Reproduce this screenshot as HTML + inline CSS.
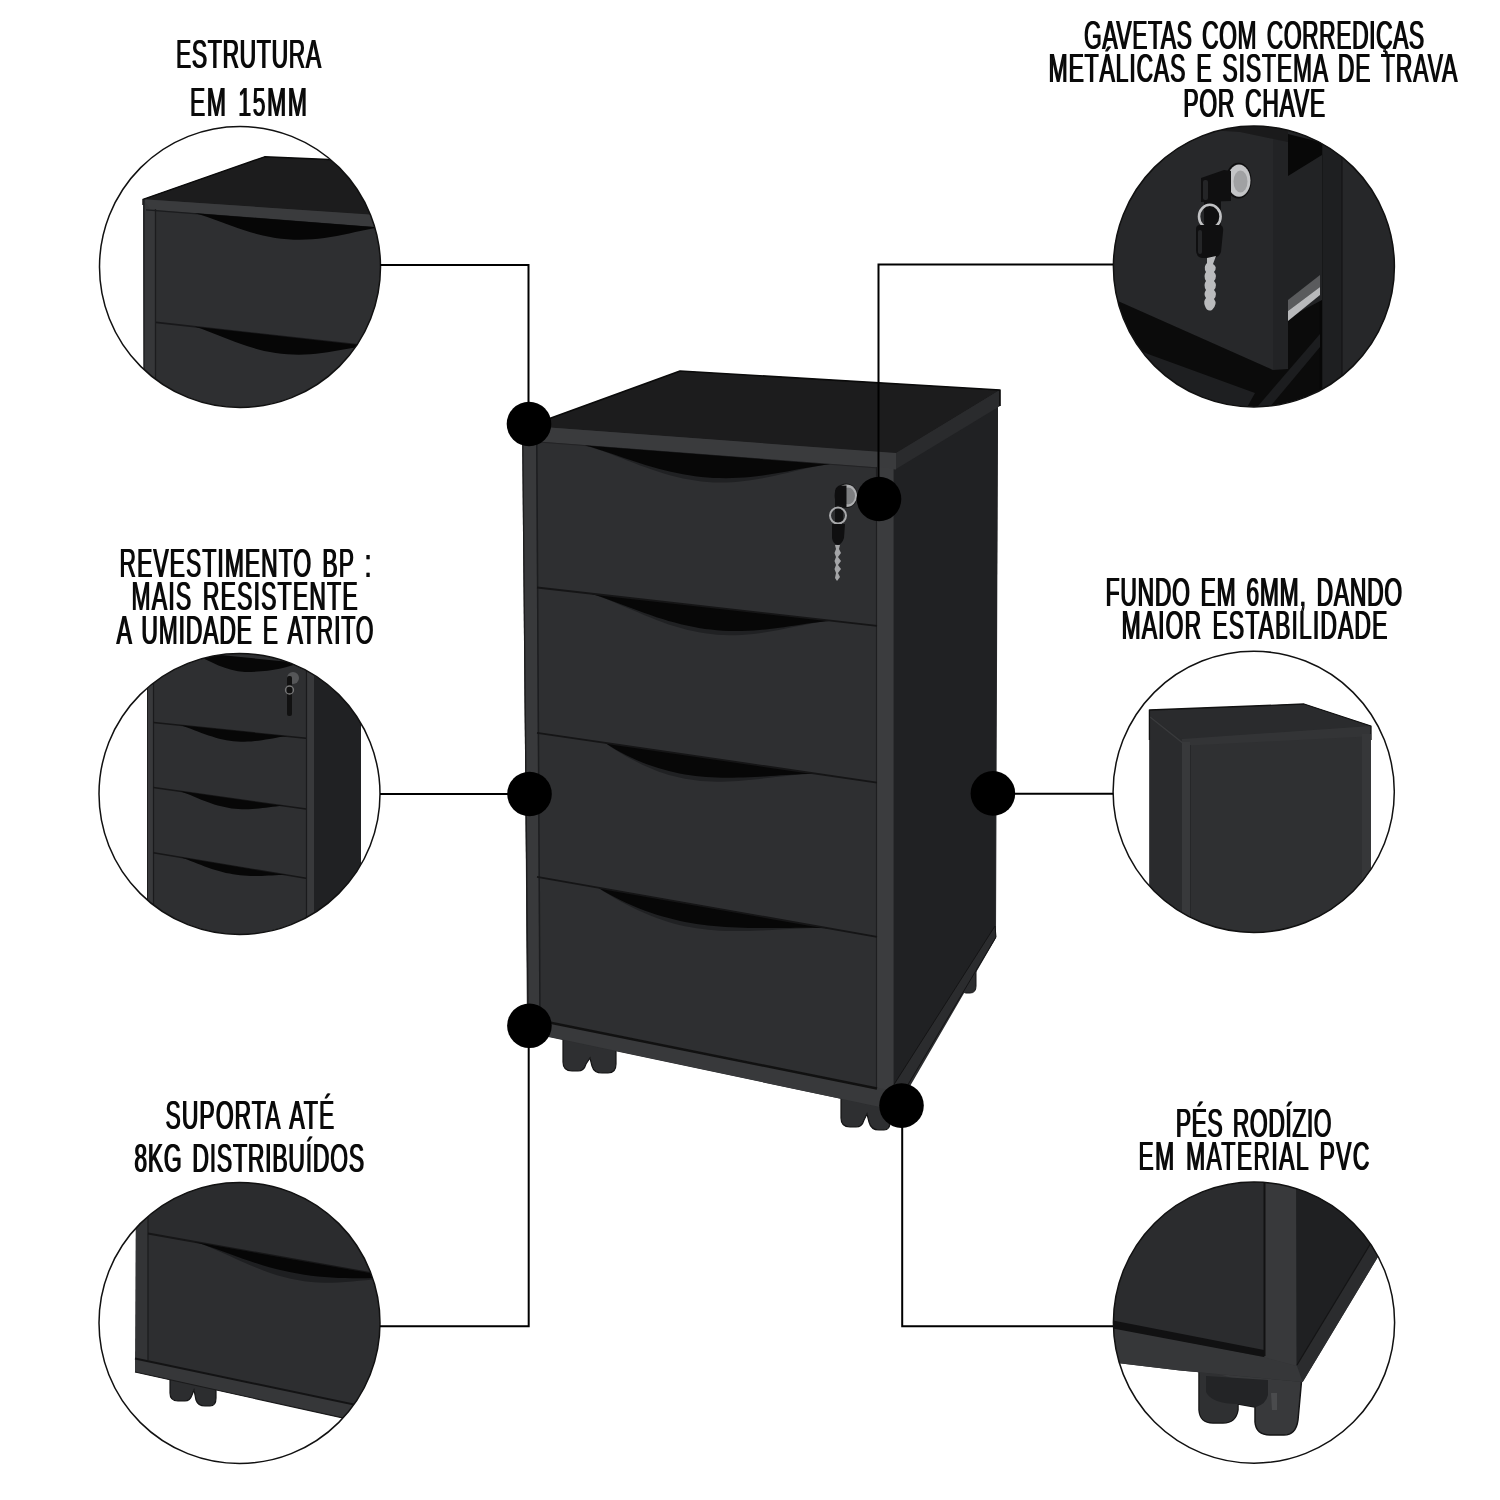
<!DOCTYPE html>
<html><head><meta charset="utf-8"><title>Gaveteiro</title>
<style>
html,body{margin:0;padding:0;background:#fff;}
body{width:1500px;height:1500px;overflow:hidden;}
svg{display:block;}
.t{font-family:"Liberation Sans",sans-serif;font-size:41.5px;fill:#0a0a0a;word-spacing:5px;}
.t{will-change:transform;}
</style></head><body>
<svg width="1500" height="1500" viewBox="0 0 1500 1500">
<defs>
<clipPath id="cTL"><circle cx="240" cy="267" r="140.5"/></clipPath>
<clipPath id="cTR"><circle cx="1253.9" cy="266.5" r="140.5"/></clipPath>
<clipPath id="cML"><circle cx="239.5" cy="794" r="140.5"/></clipPath>
<clipPath id="cMR"><circle cx="1253.7" cy="791.8" r="140.6"/></clipPath>
<clipPath id="cBL"><circle cx="239.5" cy="1323" r="140.5"/></clipPath>
<clipPath id="cBR"><circle cx="1254" cy="1322.6" r="140.6"/></clipPath>
</defs>
<rect width="1500" height="1500" fill="#fff"/>

<!-- ============ CIRCLE CONTENTS ============ -->
<!-- TL -->
<g clip-path="url(#cTL)" id="gTL">
<rect x="99" y="126" width="282" height="282" fill="#fff"/>
<polygon points="143,199.3 264.6,156.8 330,159.5 400,150 400,420 144,420" fill="#2e2f31"/>
<polygon points="143,199.3 264.6,156.8 330,159.5 400,150 400,217" fill="#1c1c1d"/>
<polygon points="143,199.3 400,216.5 400,229.2 146,209.6" fill="#3a3b3d"/>
<polyline points="143,205 143,199.3 264.6,156.8 335,159.8" fill="none" stroke="#0a0a0a" stroke-width="1.4" stroke-linejoin="round"/>
<polygon points="143.5,199.5 150,209 156,209 156,420 144,420" fill="#363739"/>
<line x1="144" y1="200" x2="144" y2="420" stroke="#1c1c1d" stroke-width="1.2"/>
<line x1="155.5" y1="209" x2="155.5" y2="420" stroke="#1c1c1e" stroke-width="1.3"/>
<line x1="146" y1="209.8" x2="400" y2="229.5" stroke="#1b1c1e" stroke-width="1.2"/>
<line x1="156" y1="322.4" x2="400" y2="349.4" stroke="#18181a" stroke-width="1.6"/>
<path d="M195.0,213.2 L201.2,214.9 L207.3,217.0 L213.5,219.2 L219.7,221.5 L225.8,223.8 L232.0,226.1 L238.2,228.2 L244.3,230.3 L250.5,232.2 L256.7,233.9 L262.8,235.5 L269.0,236.8 L275.2,237.9 L281.3,238.7 L287.5,239.3 L293.7,239.7 L299.8,239.8 L306.0,239.6 L312.2,239.3 L318.3,238.7 L324.5,237.9 L330.7,237.0 L336.8,235.9 L343.0,234.7 L349.2,233.4 L355.3,232.0 L361.5,230.7 L367.7,229.4 L373.8,228.3 L380.0,227.5 Z" fill="#060606"/>
<path d="M195.0,326.7 L200.8,328.5 L206.5,330.7 L212.3,332.9 L218.1,335.2 L223.8,337.5 L229.6,339.8 L235.4,342.0 L241.1,344.1 L246.9,346.0 L252.7,347.8 L258.4,349.5 L264.2,350.9 L270.0,352.1 L275.7,353.1 L281.5,353.8 L287.3,354.3 L293.0,354.6 L298.8,354.7 L304.6,354.6 L310.3,354.2 L316.1,353.7 L321.9,353.1 L327.6,352.2 L333.4,351.3 L339.2,350.3 L344.9,349.3 L350.7,348.3 L356.5,347.3 L362.2,346.4 L368.0,345.9 Z" fill="#060606"/>
</g>
<!-- TR -->
<g clip-path="url(#cTR)" id="gTR">
<rect x="1110" y="120" width="290" height="292" fill="#0b0b0b"/>
<rect x="1342" y="110" width="60" height="310" fill="#262729"/>
<rect x="1322" y="110" width="20" height="310" fill="#1e1f21"/>
<line x1="1321" y1="110" x2="1321" y2="420" stroke="#070707" stroke-width="2.5"/>
<line x1="1342" y1="110" x2="1342" y2="420" stroke="#111112" stroke-width="1"/>
<polygon points="1288,110 1322,110 1322,300 1288,318" fill="#222325"/>
<polygon points="1288,134 1316,141 1322,143 1322,155 1288,176" fill="#080808"/>
<polygon points="1288,300 1320,275 1320,287 1288,311" fill="#5a5b5d"/>
<polygon points="1288,311 1320,287 1320,295 1288,321" fill="#b8b9bb"/>
<polygon points="1100,330 1148,354 1255,393 1240,420 1100,420" fill="#1e1f21"/>
<polygon points="1246,420 1320,334 1320,347 1259,420" fill="#1c1d1f"/>
<polygon points="1100,100 1273,100 1273,370 1119,301.6 1100,294" fill="#27282a"/>
<polygon points="1273,118 1288,118 1288,369 1273,370" fill="#222325"/>
<polygon points="1160,112 1288,112 1288,142 1240,132 1160,127" fill="#1a1a1b"/>
<ellipse cx="1238.5" cy="180.6" rx="13" ry="17.8" fill="#0e0e0f"/>
<ellipse cx="1239" cy="180.6" rx="11.5" ry="16.2" fill="#c4c5c7"/>
<ellipse cx="1240.5" cy="181.5" rx="7" ry="11" fill="#a0a1a3"/>
<path d="M1201,178 L1224,170 L1231,171 L1231,201 L1201,202 Z" fill="#0f0f10"/>
<rect x="1203" y="180" width="5" height="20" rx="2" fill="#242527"/>
<rect x="1204" y="200" width="17" height="27" fill="#0f0f10"/>
<ellipse cx="1209.8" cy="216.6" rx="10.8" ry="11.8" fill="none" stroke="#c0c1c3" stroke-width="2.6"/>
<path d="M1196,229 Q1196,225 1200,225 L1220,225 Q1224,226 1223,232 L1221,252 Q1219,258 1212,258 L1202,258 Q1196,257 1196,250 Z" fill="#0f0f10"/>
<rect x="1198" y="230" width="4" height="24" rx="2" fill="#242527"/>
<path d="M1207,258 L1216,256 L1213,264 Q1218,267 1214,272 Q1218,276 1214,281 Q1218,285 1214,290 Q1218,294 1214,299 Q1218,304 1212,310 Q1207,312 1205,306 Q1203,301 1206,298 Q1203,294 1206,290 Q1203,285 1206,281 Q1203,276 1206,272 Q1203,267 1207,263 Z" fill="#babbbd"/>
</g>
<!-- ML -->
<g clip-path="url(#cML)" id="gML">
<rect x="99" y="653" width="283" height="283" fill="#fff"/>
<rect x="313" y="640" width="48" height="310" fill="#202123"/>
<rect x="147" y="640" width="167" height="310" fill="#2e2f31"/>
<rect x="147" y="640" width="6" height="310" fill="#38393b"/>
<line x1="147.5" y1="640" x2="147.5" y2="950" stroke="#1c1c1d" stroke-width="1"/>
<line x1="153.5" y1="640" x2="153.5" y2="950" stroke="#1a1a1c" stroke-width="1.2"/>
<rect x="307" y="640" width="7" height="310" fill="#38393b"/>
<line x1="306.5" y1="640" x2="306.5" y2="950" stroke="#1a1a1c" stroke-width="1.2"/>
<g stroke="#161617" stroke-width="1.5">
<line x1="153.4" y1="722.4" x2="306" y2="738.3"/>
<line x1="153.4" y1="787.5" x2="306" y2="809.1"/>
<line x1="153.4" y1="852.7" x2="306" y2="878.3"/>
</g>
<g fill="#070707">
<path d="M190,652 L300,663 C285,668 270,672 245,672 C225,671 210,661 190,652 Z"/>
<path d="M180.0,725.2 L183.6,726.2 L187.1,727.5 L190.7,728.8 L194.3,730.2 L197.8,731.6 L201.4,732.9 L205.0,734.2 L208.5,735.5 L212.1,736.6 L215.7,737.7 L219.2,738.7 L222.8,739.5 L226.4,740.2 L229.9,740.8 L233.5,741.2 L237.1,741.5 L240.6,741.7 L244.2,741.7 L247.8,741.6 L251.3,741.4 L254.9,741.1 L258.5,740.7 L262.0,740.2 L265.6,739.6 L269.2,739.0 L272.7,738.4 L276.3,737.7 L279.9,737.1 L283.4,736.6 L287.0,736.3 Z"/>
<path d="M180.0,791.3 L183.4,792.4 L186.9,793.7 L190.3,795.1 L193.7,796.5 L197.2,798.0 L200.6,799.4 L204.0,800.7 L207.5,802.0 L210.9,803.2 L214.3,804.4 L217.8,805.4 L221.2,806.3 L224.6,807.1 L228.1,807.8 L231.5,808.4 L234.9,808.8 L238.4,809.1 L241.8,809.2 L245.2,809.3 L248.7,809.2 L252.1,809.1 L255.5,808.8 L259.0,808.5 L262.4,808.1 L265.8,807.7 L269.3,807.2 L272.7,806.8 L276.1,806.4 L279.6,806.0 L283.0,805.9 Z"/>
<path d="M180.0,857.2 L183.5,858.3 L187.1,859.6 L190.6,861.0 L194.1,862.3 L197.7,863.7 L201.2,865.1 L204.7,866.4 L208.3,867.7 L211.8,868.9 L215.3,870.0 L218.9,871.1 L222.4,872.0 L225.9,872.9 L229.5,873.6 L233.0,874.3 L236.5,874.8 L240.1,875.2 L243.6,875.6 L247.1,875.8 L250.7,875.9 L254.2,876.0 L257.7,876.0 L261.3,875.9 L264.8,875.7 L268.3,875.6 L271.9,875.4 L275.4,875.2 L278.9,875.0 L282.5,874.9 L286.0,875.0 Z"/>
</g>
<circle cx="293" cy="678" r="6" fill="#555658"/>
<rect x="287" y="676" width="5" height="40" rx="2" fill="#111"/>
<circle cx="289.5" cy="690" r="4" fill="none" stroke="#777" stroke-width="1.3"/>
</g>
<!-- MR -->
<g clip-path="url(#cMR)" id="gMR">
<rect x="1113" y="651" width="283" height="283" fill="#fff"/>
<polygon points="1149.4,710 1304,704 1371,726 1371,950 1149.4,950" fill="#2c2d2f"/>
<polygon points="1149.4,712 1182,740 1182,950 1149.4,950" fill="#2a2b2d"/>
<polygon points="1189,745 1366,735 1366,950 1189,950" fill="#2f3032"/>
<polygon points="1149.4,710 1304,704 1371,726 1182,739.5 1149.4,716" fill="#2a2b2d"/>
<polygon points="1182,739 1371,726 1371,733 1366,736.5 1190,745.5 1182,745.5" fill="#333436"/>
<line x1="1150" y1="717" x2="1184" y2="744" stroke="#3a3b3d" stroke-width="1.2"/>
<polyline points="1149.4,740 1149.4,710 1304,704 1371,726 1371,740" fill="none" stroke="#111" stroke-width="1.3" stroke-linejoin="round"/>
<rect x="1182" y="742" width="8" height="210" fill="#38393b"/>
<rect x="1362" y="734" width="9" height="216" fill="#363739"/>
<line x1="1190.5" y1="745" x2="1190.5" y2="950" stroke="#262729" stroke-width="1"/>
</g>
<!-- BL -->
<g clip-path="url(#cBL)" id="gBL">
<rect x="99" y="1182" width="283" height="283" fill="#fff"/>
<polygon points="136,1170 420,1170 420,1435 135,1372" fill="#2d2e30"/>
<polygon points="136,1170 420,1170 420,1283 136,1232" fill="#2b2c2e"/>
<rect x="136" y="1170" width="12" height="192" fill="#333436"/>
<line x1="148" y1="1170" x2="148" y2="1360" stroke="#1c1c1e" stroke-width="1.3"/>
<line x1="148" y1="1233.5" x2="420" y2="1281.9" stroke="#161617" stroke-width="2"/>
<path d="M195.0,1241.9 L201.8,1244.1 L208.7,1246.8 L215.5,1249.7 L222.3,1252.7 L229.2,1255.8 L236.0,1258.9 L242.8,1262.0 L249.7,1265.0 L256.5,1267.8 L263.3,1270.5 L270.2,1272.9 L277.0,1275.2 L283.8,1277.1 L290.7,1278.8 L297.5,1280.1 L304.3,1281.2 L311.2,1282.0 L318.0,1282.5 L324.8,1282.7 L331.7,1282.7 L338.5,1282.4 L345.3,1282.0 L352.2,1281.5 L359.0,1280.8 L365.8,1280.2 L372.7,1279.5 L379.5,1278.9 L386.3,1278.4 L393.2,1278.2 L400.0,1278.4 Z" fill="#1e1f21"/>
<path d="M195.0,1241.9 L201.8,1244.0 L208.7,1246.4 L215.5,1248.8 L222.3,1251.3 L229.2,1253.8 L236.0,1256.3 L242.8,1258.7 L249.7,1261.1 L256.5,1263.3 L263.3,1265.4 L270.2,1267.4 L277.0,1269.2 L283.8,1270.8 L290.7,1272.3 L297.5,1273.6 L304.3,1274.8 L311.2,1275.7 L318.0,1276.5 L324.8,1277.1 L331.7,1277.6 L338.5,1277.9 L345.3,1278.1 L352.2,1278.2 L359.0,1278.2 L365.8,1278.2 L372.7,1278.1 L379.5,1278.0 L386.3,1278.0 L393.2,1278.1 L400.0,1278.4 Z" fill="#060606"/>
<path d="M170,1370 L170,1393 Q170,1401 178,1401 L185,1401 Q190,1401 192,1395 L194,1390 L196,1400 Q198,1406 205,1406 L210,1406 Q216,1406 216,1398 L216,1378 Z" fill="#2c2d2f" stroke="#141415" stroke-width="1.2"/>
<polygon points="135,1358 420,1418 420,1435 135,1372" fill="#363739"/>
<line x1="135" y1="1358.5" x2="420" y2="1418.5" stroke="#131314" stroke-width="2"/>
<line x1="135" y1="1372" x2="420" y2="1435" stroke="#1a1a1b" stroke-width="1.2"/>
</g>
<!-- BR -->
<g clip-path="url(#cBR)" id="gBR">
<rect x="1113" y="1182" width="283" height="283" fill="#fff"/>
<path d="M1199,1368 L1199,1410 Q1200,1423 1213,1423 L1223,1423 Q1236,1423 1238,1410 L1238,1404 L1255,1407 L1255,1422 Q1256,1435 1270,1435 L1284,1435 Q1296,1435 1298,1420 L1302,1376 Z" fill="#38393b" stroke="#141415" stroke-width="1.5"/>
<path d="M1199.7,1368 L1199.7,1410 Q1200,1422.3 1213,1422.3 L1223,1422.3 Q1235,1422.3 1237.3,1410 L1238,1380 Z" fill="#2f3032"/>
<path d="M1206,1376 L1206,1392 Q1212,1404 1238,1404 L1256,1407 Q1266,1404 1268,1395 L1268,1380 Z" fill="#232426"/>
<path d="M1271,1393 L1277,1393 L1277,1410 L1272,1410 Z" fill="#4a4b4d"/>
<polygon points="1100,1170 1420,1170 1420,1187 1302.7,1382 1180,1370.5 1100,1361" fill="#2b2c2e"/>
<polygon points="1296,1150 1420,1150 1420,1162 1297,1365" fill="#1f2022"/>
<polygon points="1297,1365 1420,1162 1420,1187 1302.7,1382" fill="#2b2c2e"/>
<line x1="1297" y1="1365" x2="1420" y2="1162" stroke="#141415" stroke-width="1.2"/>
<polygon points="1265,1170 1296,1170 1296,1366 1265,1358" fill="#38393b"/>
<line x1="1264.5" y1="1170" x2="1264.5" y2="1356" stroke="#121213" stroke-width="2"/>
<polygon points="1100,1325 1264,1357 1297,1366 1302.7,1382 1180,1370.5 1100,1361" fill="#363739"/>
<polygon points="1100,1318 1264,1350 1264,1357 1100,1326" fill="#111112"/>
</g>

<!-- circle outlines -->
<g fill="none" stroke="#111" stroke-width="1.5">
<circle cx="240" cy="267" r="140.5"/>
<circle cx="1253.9" cy="266.5" r="140.5"/>
<circle cx="239.5" cy="794" r="140.5"/>
<circle cx="1253.7" cy="791.8" r="140.6"/>
<circle cx="239.5" cy="1323" r="140.5"/>
<circle cx="1254" cy="1322.6" r="140.6"/>
</g>

<!-- ============ MAIN CABINET ============ -->
<g id="cab">
<!-- rear wheel -->
<path d="M962,968 L976,962 L976,986 Q976,993 970,993 L966,993 Q962,993 962,986 Z" fill="#2c2d2f" stroke="#151516" stroke-width="1"/>
<!-- front wheels -->
<path d="M563,1028 L563,1062 Q563,1071 572,1071 L578,1071 Q584,1071 586,1064 L590,1058 L592,1066 Q594,1073 602,1073 L608,1073 Q616,1073 616,1064 L616,1038 Z" fill="#2e2f31" stroke="#141415" stroke-width="1.2"/>
<path d="M841,1085 L841,1118 Q841,1127 850,1127 L856,1127 Q862,1127 864,1120 L867,1114 L869,1122 Q871,1130 879,1130 L884,1130 Q890,1130 890,1122 L890,1092 Z" fill="#2e2f31" stroke="#141415" stroke-width="1.2"/>
<!-- base silhouette -->
<polygon points="523,442 529,426 680,371 1000,390 1000,406 998,406 996,938 902,1100 894,1110 527,1032.5" fill="#2d2e30"/>
<!-- side panel -->
<polygon points="893.3,469 998,406 995,928 893.3,1088" fill="#202123"/>
<polygon points="995,926 996,937 900,1098 893,1086" fill="#2b2c2e" stroke="#141415" stroke-width="1"/>
<!-- top surface -->
<polygon points="529,426 680,371 1000,390 896,453.5" fill="#1c1c1d"/>
<polygon points="896,453 1000,390 1000,406 896,469" fill="#2a2b2d"/>
<polygon points="529,426 896,453 896,469.4 529,441.3" fill="#3a3b3d"/>
<polyline points="529,426 680,371 1000,390 1000,406" fill="none" stroke="#0a0a0a" stroke-width="1.6" stroke-linejoin="round"/>
<!-- front drawer area -->
<polygon points="536.5,441.5 877,467.5 877,1088.5 540,1020" fill="#2e2f31"/>
<!-- left strip -->
<polygon points="522.2,442 536.2,442 539.6,1030 527.6,1030" fill="#38393b"/>
<line x1="522.8" y1="442" x2="528.2" y2="1030" stroke="#1c1c1d" stroke-width="1.3"/>
<line x1="536.8" y1="442" x2="540" y2="1020" stroke="#1c1d1f" stroke-width="1.5"/>
<!-- right strip -->
<polygon points="876.5,466.8 893.5,468.5 893.5,1092 876.5,1089" fill="#3b3c3e"/>
<line x1="876.5" y1="467" x2="876.5" y2="1089" stroke="#1e1e20" stroke-width="1.2"/>
<line x1="537" y1="441.9" x2="877" y2="467.9" stroke="#232325" stroke-width="1"/>
<!-- handles -->
<g fill="#202123">
<path d="M585.0,445.6 L591.1,447.2 L597.2,449.2 L603.4,451.3 L609.5,453.6 L615.6,455.9 L621.8,458.3 L627.9,460.7 L634.0,463.1 L640.1,465.4 L646.2,467.6 L652.4,469.8 L658.5,471.8 L664.6,473.7 L670.8,475.5 L676.9,477.0 L683.0,478.4 L689.1,479.6 L695.2,480.6 L701.4,481.4 L707.5,482.0 L713.6,482.4 L719.8,482.5 L725.9,482.5 L732.0,482.2 L738.1,481.7 L744.2,481.1 L750.4,480.3 L756.5,479.3 L762.6,478.2 L768.8,477.0 L774.9,475.7 L781.0,474.3 L787.1,472.9 L793.2,471.5 L799.4,470.0 L805.5,468.6 L811.6,467.3 L817.8,466.1 L823.9,465.0 L830.0,464.4 Z"/>
<path d="M590.0,593.5 L596.0,595.3 L602.1,597.4 L608.1,599.8 L614.2,602.3 L620.2,604.9 L626.3,607.5 L632.4,610.1 L638.4,612.6 L644.5,615.2 L650.5,617.6 L656.5,620.0 L662.6,622.2 L668.6,624.4 L674.7,626.3 L680.8,628.1 L686.8,629.7 L692.9,631.1 L698.9,632.3 L705.0,633.3 L711.0,634.1 L717.0,634.7 L723.1,635.1 L729.1,635.2 L735.2,635.2 L741.2,634.9 L747.3,634.5 L753.4,633.9 L759.4,633.2 L765.5,632.3 L771.5,631.3 L777.5,630.2 L783.6,629.1 L789.6,627.8 L795.7,626.6 L801.8,625.4 L807.8,624.2 L813.9,623.1 L819.9,622.1 L826.0,621.2 L832.0,620.8 Z"/>
<path d="M605.0,742.7 L610.3,746.5 L615.6,750.0 L621.0,753.2 L626.3,756.4 L631.6,759.3 L637.0,762.1 L642.3,764.7 L647.6,767.1 L652.9,769.3 L658.2,771.4 L663.6,773.2 L668.9,774.9 L674.2,776.3 L679.5,777.6 L684.9,778.7 L690.2,779.6 L695.5,780.3 L700.9,780.9 L706.2,781.3 L711.5,781.6 L716.8,781.7 L722.1,781.7 L727.5,781.5 L732.8,781.3 L738.1,781.0 L743.5,780.5 L748.8,780.1 L754.1,779.5 L759.4,778.9 L764.8,778.3 L770.1,777.7 L775.4,777.1 L780.7,776.5 L786.0,775.9 L791.4,775.3 L796.7,774.8 L802.0,774.4 L807.4,774.1 L812.7,773.9 L818.0,774.0 Z"/>
<path d="M598.0,887.5 L603.8,891.4 L609.6,895.0 L615.4,898.4 L621.2,901.7 L627.0,904.8 L632.8,907.7 L638.6,910.5 L644.4,913.1 L650.2,915.5 L656.0,917.8 L661.8,919.8 L667.6,921.7 L673.4,923.4 L679.2,924.9 L685.0,926.2 L690.8,927.3 L696.6,928.3 L702.4,929.1 L708.2,929.8 L714.0,930.3 L719.8,930.7 L725.6,930.9 L731.4,931.1 L737.2,931.1 L743.0,931.1 L748.8,931.0 L754.6,930.8 L760.4,930.5 L766.2,930.3 L772.0,929.9 L777.8,929.6 L783.6,929.3 L789.4,929.0 L795.2,928.7 L801.0,928.4 L806.8,928.2 L812.6,928.1 L818.4,928.1 L824.2,928.2 L830.0,928.5 Z"/>
</g>
<g fill="#070707">
<path d="M585.0,445.6 L591.1,447.1 L597.2,449.0 L603.4,450.9 L609.5,453.0 L615.6,455.1 L621.8,457.2 L627.9,459.2 L634.0,461.3 L640.1,463.2 L646.2,465.2 L652.4,467.0 L658.5,468.7 L664.6,470.3 L670.8,471.8 L676.9,473.1 L683.0,474.3 L689.1,475.3 L695.2,476.2 L701.4,476.9 L707.5,477.5 L713.6,477.9 L719.8,478.1 L725.9,478.2 L732.0,478.1 L738.1,477.8 L744.2,477.4 L750.4,476.9 L756.5,476.2 L762.6,475.4 L768.8,474.5 L774.9,473.6 L781.0,472.5 L787.1,471.4 L793.2,470.3 L799.4,469.1 L805.5,468.0 L811.6,466.9 L817.8,465.9 L823.9,465.0 L830.0,464.4 Z"/>
<path d="M590.0,593.5 L596.0,595.2 L602.1,597.3 L608.1,599.4 L614.2,601.7 L620.2,604.0 L626.3,606.3 L632.4,608.6 L638.4,610.8 L644.5,613.0 L650.5,615.1 L656.5,617.2 L662.6,619.1 L668.6,620.9 L674.7,622.6 L680.8,624.2 L686.8,625.6 L692.9,626.8 L698.9,627.9 L705.0,628.9 L711.0,629.6 L717.0,630.2 L723.1,630.7 L729.1,630.9 L735.2,631.1 L741.2,631.0 L747.3,630.8 L753.4,630.5 L759.4,630.0 L765.5,629.5 L771.5,628.8 L777.5,628.1 L783.6,627.2 L789.6,626.3 L795.7,625.4 L801.8,624.5 L807.8,623.6 L813.9,622.7 L819.9,621.9 L826.0,621.2 L832.0,620.8 Z"/>
<path d="M605.0,742.7 L610.3,746.3 L615.6,749.5 L621.0,752.4 L626.3,755.2 L631.6,757.8 L637.0,760.2 L642.3,762.4 L647.6,764.4 L652.9,766.3 L658.2,768.1 L663.6,769.6 L668.9,771.1 L674.2,772.3 L679.5,773.4 L684.9,774.4 L690.2,775.2 L695.5,775.9 L700.9,776.5 L706.2,777.0 L711.5,777.3 L716.8,777.5 L722.1,777.7 L727.5,777.7 L732.8,777.7 L738.1,777.6 L743.5,777.5 L748.8,777.3 L754.1,777.0 L759.4,776.7 L764.8,776.4 L770.1,776.1 L775.4,775.7 L780.7,775.3 L786.0,775.0 L791.4,774.7 L796.7,774.4 L802.0,774.1 L807.4,773.9 L812.7,773.8 L818.0,774.0 Z"/>
<path d="M598.0,887.5 L603.8,891.3 L609.6,894.5 L615.4,897.6 L621.2,900.5 L627.0,903.2 L632.8,905.8 L638.6,908.2 L644.4,910.4 L650.2,912.5 L656.0,914.4 L661.8,916.2 L667.6,917.8 L673.4,919.3 L679.2,920.7 L685.0,921.9 L690.8,922.9 L696.6,923.9 L702.4,924.7 L708.2,925.4 L714.0,926.0 L719.8,926.5 L725.6,927.0 L731.4,927.3 L737.2,927.6 L743.0,927.8 L748.8,927.9 L754.6,928.0 L760.4,928.0 L766.2,928.0 L772.0,928.0 L777.8,928.0 L783.6,927.9 L789.4,927.9 L795.2,927.8 L801.0,927.8 L806.8,927.8 L812.6,927.8 L818.4,927.9 L824.2,928.1 L830.0,928.5 Z"/>
</g>
<!-- separators -->
<g stroke="#151516" stroke-width="1.8" fill="none">
<line x1="537" y1="587.5" x2="877" y2="625.9"/>
<line x1="537" y1="732.8" x2="877" y2="782.6"/>
<line x1="537" y1="876.8" x2="877" y2="936.8"/>
</g>
<!-- plinth -->
<polygon points="527,1017 894,1091 894,1110 527,1032" fill="#38393b"/>
<line x1="537" y1="1020" x2="877" y2="1088.5" stroke="#111" stroke-width="2.5"/>
<!-- lock -->
<ellipse cx="846" cy="495.7" rx="11.5" ry="12.3" fill="#151516"/>
<ellipse cx="846.5" cy="495.7" rx="10.5" ry="11.3" fill="#aeafb1"/>
<ellipse cx="848" cy="496" rx="7" ry="8.5" fill="#7d7e80"/>
<path d="M835,491 Q836,485.5 841,485.5 L846.5,485.5 L846.5,507 L835,507 Z" fill="#0e0e0f"/>
<rect x="835" y="505" width="8" height="21" fill="#111112"/>
<circle cx="838" cy="515.6" r="8" fill="none" stroke="#a8a9ab" stroke-width="2"/>
<path d="M832,524 L845,524 L844,538 Q842,544 838,545 Q833,544 832,538 Z" fill="#0f0f10"/>
<path d="M835,545 L840,545 L839,549 L841,553 L838,557 L841,561 L838,565 L841,569 L838,573 L840,577 L837,581 L835,578 L836,573 L834.5,569 L836,565 L834.5,561 L836,557 L834.5,553 L836,549 Z" fill="#a4a5a7"/>
</g>

<!-- connector lines -->
<g fill="none" stroke="#000" stroke-width="2">
<polyline points="380,265 528.5,265 528.5,424"/>
<polyline points="1113,264.5 878.5,264.5 878.5,499"/>
<line x1="380" y1="794" x2="529" y2="794"/>
<line x1="992" y1="793.8" x2="1113" y2="793.8"/>
<polyline points="380,1326.3 528.7,1326.3 528.7,1025"/>
<polyline points="1113,1326.3 902.2,1326.3 902.2,1105"/>
</g>
<!-- dots -->
<g fill="#000">
<circle cx="529" cy="424" r="22.3"/>
<circle cx="879" cy="499" r="22.3"/>
<circle cx="529.5" cy="794" r="22.3"/>
<circle cx="992.9" cy="793.4" r="22.3"/>
<circle cx="529.4" cy="1025.8" r="22.3"/>
<circle cx="901.5" cy="1105.6" r="22.3"/>
</g>

<!-- ============ TEXT ============ -->
<g class="t" id="txt">
<text transform="translate(175.4,67.7) scale(0.55,1)" textLength="264.0" lengthAdjust="spacing">ESTRUTURA</text>
<text transform="translate(189.4,115.7) scale(0.55,1)" textLength="212.4" lengthAdjust="spacing">EM 15MM</text>
<text transform="translate(1083.4,49.2) scale(0.55,1)" textLength="618.4" lengthAdjust="spacing">GAVETAS COM CORREDIÇAS</text>
<text transform="translate(1048.0,82.2) scale(0.55,1)" textLength="743.3" lengthAdjust="spacing">METÁLICAS E SISTEMA DE TRAVA</text>
<text transform="translate(1182.8,116.7) scale(0.55,1)" textLength="257.8" lengthAdjust="spacing">POR CHAVE</text>
<text transform="translate(118.9,576.7) scale(0.55,1)" textLength="457.6" lengthAdjust="spacing">REVESTIMENTO BP :</text>
<text transform="translate(130.9,609.7) scale(0.55,1)" textLength="411.1" lengthAdjust="spacing">MAIS RESISTENTE</text>
<text transform="translate(116.0,643.7) scale(0.55,1)" textLength="467.1" lengthAdjust="spacing">A UMIDADE E ATRITO</text>
<text transform="translate(1105.0,606.2) scale(0.55,1)" textLength="539.3" lengthAdjust="spacing">FUNDO EM 6MM, DANDO</text>
<text transform="translate(1121.0,639.2) scale(0.55,1)" textLength="483.1" lengthAdjust="spacing">MAIOR ESTABILIDADE</text>
<text transform="translate(164.9,1128.7) scale(0.55,1)" textLength="306.8" lengthAdjust="spacing">SUPORTA ATÉ</text>
<text transform="translate(133.7,1171.7) scale(0.55,1)" textLength="417.8" lengthAdjust="spacing">8KG DISTRIBUÍDOS</text>
<text transform="translate(1175.2,1136.7) scale(0.55,1)" textLength="283.1" lengthAdjust="spacing">PÉS RODÍZIO</text>
<text transform="translate(1137.9,1169.7) scale(0.55,1)" textLength="419.7" lengthAdjust="spacing">EM MATERIAL PVC</text>
</g>
<use href="#txt" x="1.2"/>
</svg>
</body></html>
